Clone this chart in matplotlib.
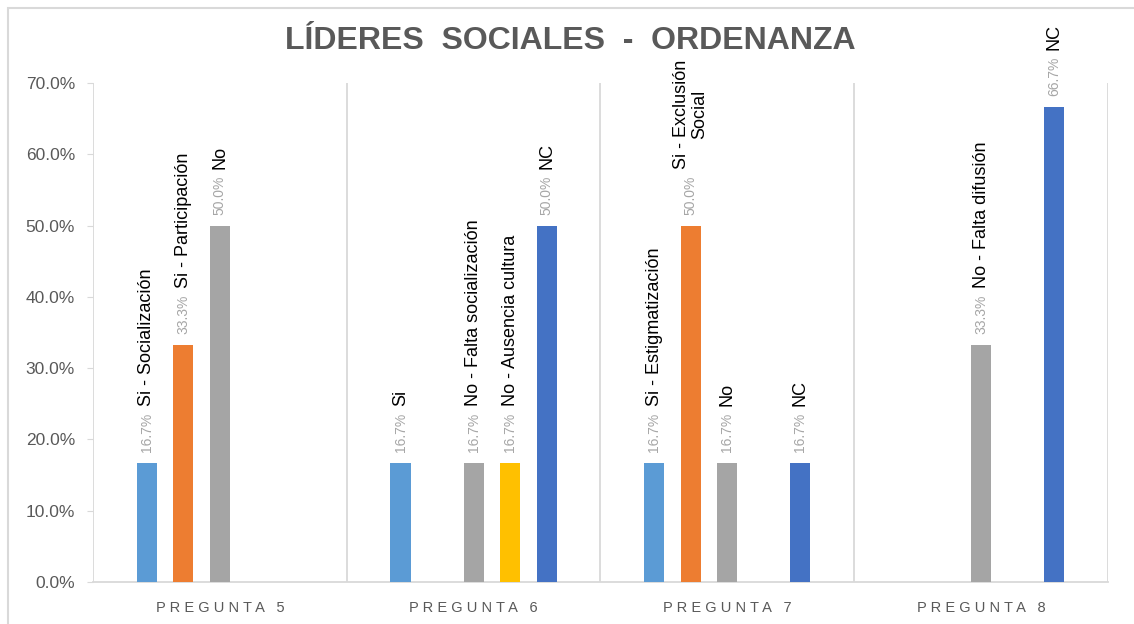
import numpy as np
import matplotlib
matplotlib.use("Agg")
import matplotlib.pyplot as plt
from matplotlib.patches import Rectangle
from matplotlib.ticker import FuncFormatter, MultipleLocator

plt.rcParams['font.family'] = ['Liberation Sans', 'DejaVu Sans']

title = "LÍDERES SOCIALES - ORDENANZA"
categories = ["PREGUNTA 5", "PREGUNTA 6", "PREGUNTA 7", "PREGUNTA 8"]

nan = np.nan
# one series per answer slot, values in %
s1_vals = [16.7, 16.7, 16.7, nan]
s2_vals = [33.3, nan, 50.0, nan]
s3_vals = [50.0, 16.7, 16.7, 33.3]
s4_vals = [nan, 16.7, nan, nan]
s5_vals = [nan, 50.0, 16.7, 66.7]

s1_labels = ["Si - Socialización", "Si", "Si - Estigmatización", None]
s2_labels = ["Si - Participación", None, "Si - Exclusión\nSocial", None]
s3_labels = ["No", "No - Falta socialización", "No", "No - Falta difusión"]
s4_labels = [None, "No - Ausencia cultura", None, None]
s5_labels = [None, "NC", "NC", "NC"]

colors = ["#5B9BD5", "#ED7D31", "#A5A5A5", "#FFC000", "#4472C4"]

series = [s1_vals, s2_vals, s3_vals, s4_vals, s5_vals]
labels = [s1_labels, s2_labels, s3_labels, s4_labels, s5_labels]

fig = plt.figure(figsize=(11.34, 6.24), dpi=100)
ax = fig.add_axes([0.082, 0.0673, 0.895, 0.7997])

# chart frame (cropped on the right and bottom like the source)
fig.patches.append(Rectangle((0.007, -0.1), 1.1, 1.087, transform=fig.transFigure,
                             fill=False, edgecolor="#D9D9D9", lw=1.5))

x = np.arange(len(categories))
step = 0.144
width = 0.079
for i, (vals, labs) in enumerate(zip(series, labels)):
    xs = x + (i - 2) * step
    ax.bar(xs, vals, width=width, color=colors[i], zorder=3)
    for xi, v, lab in zip(xs, vals, labs):
        if np.isnan(v):
            continue
        ax.annotate(f"{v:.1f}%", (xi, v), xytext=(0, 11), textcoords="offset pixels",
                    rotation=90, ha="center", va="bottom", fontsize=10,
                    color="#A6A6A6", annotation_clip=False)
        if lab:
            ax.annotate(lab, (xi, v), xytext=(0, 57), textcoords="offset pixels",
                        rotation=90, ha="center", va="bottom", fontsize=13,
                        color="black", annotation_clip=False, linespacing=1.1,
                        multialignment="center")

ax.set_xlim(-0.5, 3.5)
ax.set_ylim(0, 70)
ax.yaxis.set_major_locator(MultipleLocator(10))
ax.yaxis.set_major_formatter(FuncFormatter(lambda v, p: f"{v:.1f}%"))
ax.set_xticks(x)
ax.set_xticklabels([" ".join(c) for c in categories], fontsize=10.5, color="#595959")
ax.tick_params(axis="x", length=0, pad=14)
ax.tick_params(axis="y", length=4, color="#D9D9D9", labelsize=12.5, labelcolor="#595959", pad=9)

for b in np.arange(-0.5, 4.0, 1.0):
    ax.axvline(b, color="#D9D9D9", lw=1.3, zorder=1)
for s in ["top", "right", "left"]:
    ax.spines[s].set_visible(False)
ax.spines["bottom"].set_color("#D9D9D9")
ax.spines["bottom"].set_linewidth(1.3)

fig.text(0.503, 0.935, title.replace(" ", "  "), ha="center", va="center",
         fontsize=23, fontweight="bold", color="#595959")

fig.savefig("out.png", dpi=100)
